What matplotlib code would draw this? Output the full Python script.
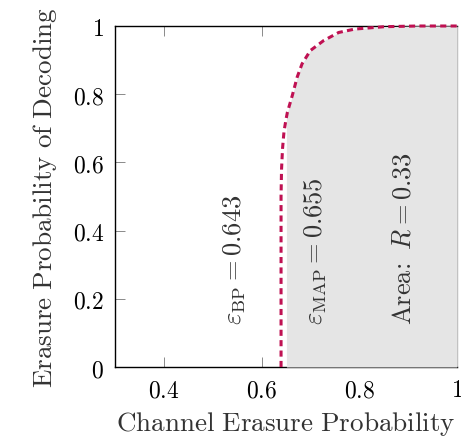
import matplotlib.pyplot as plt

plt.rcParams['mathtext.fontset'] = 'cm'
plt.rcParams['font.family'] = 'serif'
plt.rcParams['font.serif'] = ['DejaVu Serif']

# BP EXIT curve
curve_x = [0.640, 0.640, 0.641, 0.643, 0.646, 0.650, 0.653, 0.663, 0.673,
           0.683, 0.700, 0.727, 0.758, 0.791, 0.852, 0.920, 1.000]
curve_y = [0.000, 0.500, 0.580, 0.640, 0.690, 0.725, 0.747, 0.796, 0.850,
           0.889, 0.928, 0.957, 0.981, 0.991, 0.998, 1.000, 1.000]

eps_bp = 0.643
eps_map = 0.655
rate = 0.33
map_x = 0.651  # where the shaded area starts in the picture

xticks = [0.4, 0.6, 0.8, 1.0]
xtick_labels = ['$0.4$', '$0.6$', '$0.8$', '$1$']
yticks = [0, 0.2, 0.4, 0.6, 0.8, 1.0]
ytick_labels = ['$0$', '$0.2$', '$0.4$', '$0.6$', '$0.8$', '$1$']

fig = plt.figure(figsize=(4.61, 4.39), dpi=100)
ax = fig.add_axes([0.2495, 0.1617, 0.7415, 0.7768])

# shaded area under the curve right of the MAP threshold
fx = [map_x] + [x for x in curve_x if x > map_x]
fy = [0.742] + [y for x, y in zip(curve_x, curve_y) if x > map_x]
ax.fill_between(fx, 0, fy, color='#e5e5e5', lw=0, zorder=3)

ax.plot(curve_x, curve_y, color='#bf1152', lw=2.2, dashes=(2.0, 1.4),
        zorder=4, clip_on=False)

ax.set_xlim(0.3, 1.0)
ax.set_ylim(0, 1)
ax.set_xticks(xticks)
ax.set_xticklabels(xtick_labels)
ax.set_yticks(yticks)
ax.set_yticklabels(ytick_labels)
ax.tick_params(direction='in', length=7, width=0.6, color='#777777',
               top=True, right=True, labelsize=17, pad=8)
for s in ax.spines.values():
    s.set_linewidth(1.0)
ax.spines['right'].set_color('#b0b0b0')

txt_color = '#333333'
ax.text(0.545, 0.125, r'$\varepsilon_{\mathrm{BP}} = ' + f'{eps_bp}$', rotation=90,
        rotation_mode='anchor', ha='left', va='center', fontsize=19,
        color=txt_color, zorder=5)
ax.text(0.712, 0.125, r'$\varepsilon_{\mathrm{MAP}} = ' + f'{eps_map}$', rotation=90,
        rotation_mode='anchor', ha='left', va='center', fontsize=19,
        color=txt_color, zorder=5)
ax.text(0.890, 0.125, r'$\mathrm{Area\!:}\ R = ' + f'{rate}$', rotation=90,
        rotation_mode='anchor', ha='left', va='center', fontsize=19,
        color=txt_color, zorder=5)

ax.set_xlabel(r'$\mathrm{Channel\ Erasure\ Probability}$', fontsize=19.5,
              color=txt_color, labelpad=6)
ax.set_ylabel(r'$\mathrm{Erasure\ Probability\ of\ Decoding}$', fontsize=19.5,
              color=txt_color, labelpad=10)

fig.savefig('out.png', dpi=100)
